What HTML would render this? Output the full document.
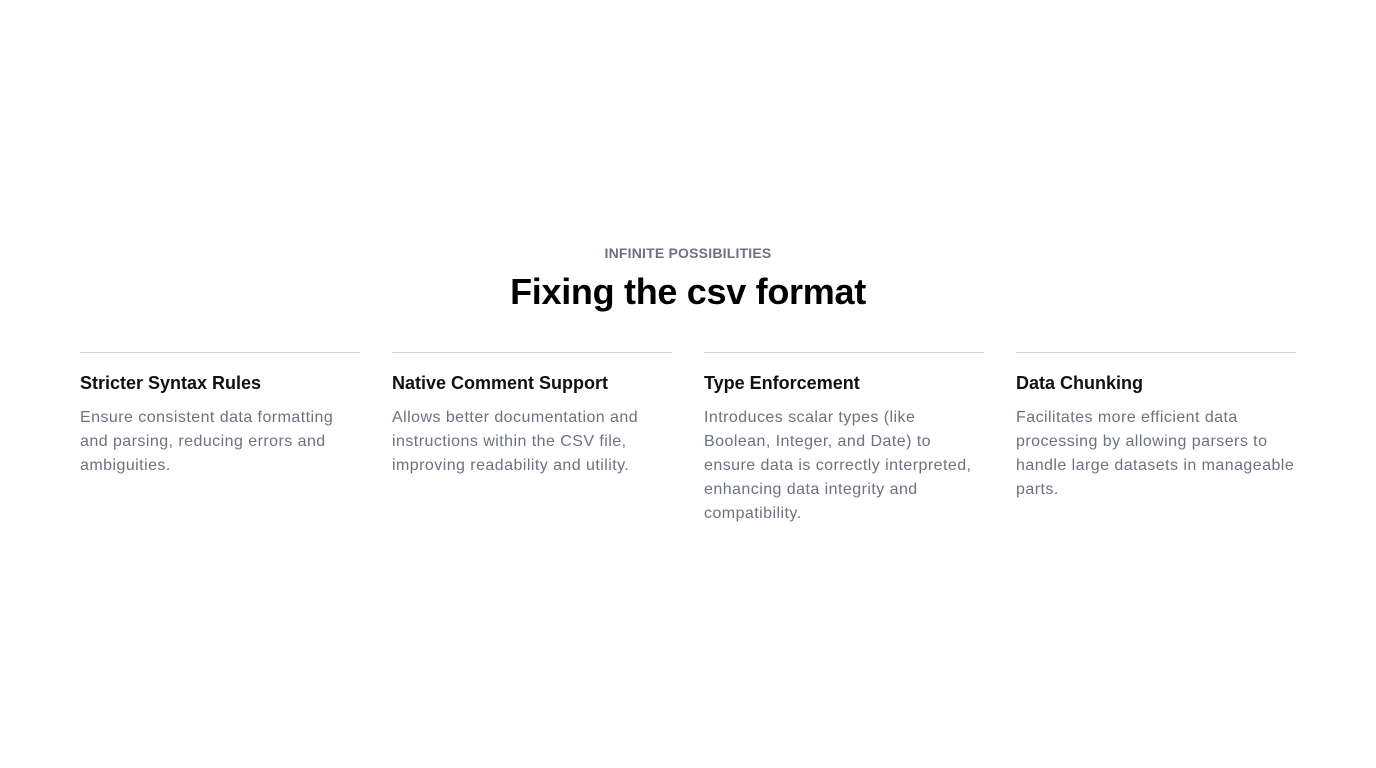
<!DOCTYPE html>
<html><head><style>
body{margin:0;width:1376px;height:768px;background:#fff;font-family:"Liberation Sans",sans-serif;position:relative;overflow:hidden}
.eyebrow{position:absolute;top:245px;left:0;width:1376px;text-align:center;font-size:14px;font-weight:bold;color:#6b7280;letter-spacing:0.2px}
h1{position:absolute;top:270px;left:0;width:1376px;text-align:center;margin:0;font-size:36px;font-weight:bold;color:#000;letter-spacing:-0.3px;line-height:44px}
.col{position:absolute;top:352px;width:290px;border-top:1px solid #d1d5db}
.col h3{margin:19px 0 0;font-size:18px;font-weight:bold;color:#111;line-height:22px}
.col p{margin:12px 0 0;font-size:16px;line-height:24px;color:#6b7280;letter-spacing:0.45px;white-space:nowrap}
</style></head><body>
<div class="eyebrow">INFINITE POSSIBILITIES</div>
<h1>Fixing the csv format</h1>
<div class="col" style="left:80px;width:280px"><h3>Stricter Syntax Rules</h3><p>Ensure consistent data formatting<br>and parsing, reducing errors and<br>ambiguities.</p></div>
<div class="col" style="left:392px;width:280px"><h3>Native Comment Support</h3><p>Allows better documentation and<br>instructions within the CSV file,<br>improving readability and utility.</p></div>
<div class="col" style="left:704px;width:280px"><h3>Type Enforcement</h3><p>Introduces scalar types (like<br>Boolean, Integer, and Date) to<br>ensure data is correctly interpreted,<br>enhancing data integrity and<br>compatibility.</p></div>
<div class="col" style="left:1016px;width:280px"><h3>Data Chunking</h3><p>Facilitates more efficient data<br>processing by allowing parsers to<br>handle large datasets in manageable<br>parts.</p></div>
</body></html>
